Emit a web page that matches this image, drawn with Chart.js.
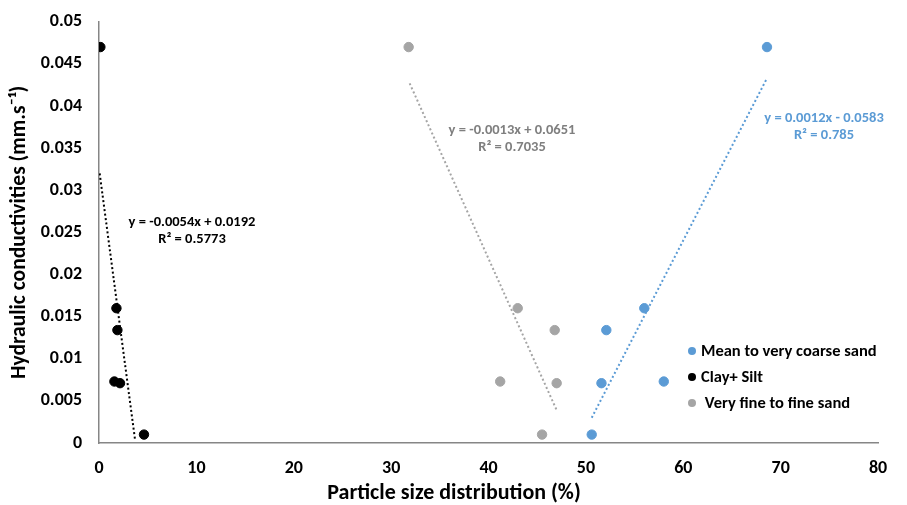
<!DOCTYPE html>
<html><head><meta charset="utf-8">
<script src="https://cdn.jsdelivr.net/npm/chart.js@4/dist/chart.umd.min.js"></script>
<style>html,body{margin:0;padding:0;background:#fff}#wrap{width:907px;height:505px}</style>
</head><body><div id="wrap"><canvas id="c" width="907" height="505"></canvas></div>
<script>
const FONT = 'Carlito, "Liberation Sans Narrow", "Open Sans", sans-serif';
const kValues = [0.047, 0.016, 0.0134, 0.0073, 0.0071, 0.001];
const clayX = [0.14, 1.79, 1.89, 1.58, 2.16, 4.62];
const veryFineX = [31.8, 43.0, 46.8, 41.2, 47.0, 45.5];
const meanX = [68.6, 56.0, 52.1, 58.0, 51.6, 50.6];
const clayTrendX = [0.07, 3.7], clayTrendY = [0.032, 0.0004];
const fineTrendX = [31.9, 47.0], fineTrendY = [0.0427, 0.0039];
const meanTrendX = [50.6, 68.6], meanTrendY = [0.0030, 0.0433];
const seriesNames = ['Mean to very coarse sand', 'Clay+ Silt', ' Very fine to fine sand'];
const eqClay = ['y = -0.0054x + 0.0192', 'R² = 0.5773'];
const eqFine = ['y = -0.0013x + 0.0651', 'R² = 0.7035'];
const eqMean = ['y = 0.0012x - 0.0583', 'R² = 0.785'];
const xTitle = 'Particle size distribution (%)';
const yTitle = 'Hydraulic conductivities (mm.s⁻¹)';
const BLUE = '#5b9bd5', GREY = '#a5a5a5', BLACK = '#000000';

const pts = (xs, ys) => xs.map((x, i) => ({x: x, y: ys[i]}));

const overlay = {
  id: 'overlay',
  afterDraw(chart) {
    const ctx = chart.ctx;
    ctx.save();
    ctx.textAlign = 'center';
    ctx.textBaseline = 'middle';
    ctx.fillStyle = BLACK;
    ctx.font = 'bold 22px ' + FONT;
    ctx.fillText(xTitle, 454, 493);
    ctx.font = 'bold 14.5px ' + FONT;
    const drawEq = (lines, color, x, y) => {
      ctx.fillStyle = color;
      ctx.fillText(lines[0], x, y);
      ctx.fillText(lines[1], x, y + 17);
    };
    drawEq(eqClay, BLACK, 192, 222);
    drawEq(eqFine, '#7f7f7f', 512, 130);
    drawEq(eqMean, BLUE, 824, 118);
    const cols = [BLUE, BLACK, GREY];
    ctx.textAlign = 'left';
    ctx.font = 'bold 16.5px ' + FONT;
    for (let i = 0; i < 3; i++) {
      const y = 351 + i * 26;
      ctx.fillStyle = cols[i];
      ctx.beginPath(); ctx.arc(692, y, 4, 0, Math.PI * 2); ctx.fill();
      ctx.fillStyle = BLACK;
      ctx.fillText(seriesNames[i], 701, y + 1);
    }
    ctx.restore();
  }
};

const trend = (data, color) => ({
  data: data, showLine: true, borderColor: color, borderWidth: 2,
  borderDash: [2, 2.5], pointRadius: 0, pointHoverRadius: 0, fill: false
});

new Chart(document.getElementById('c'), {
  type: 'scatter',
  data: {
    datasets: [
      {label: seriesNames[0], data: pts(meanX, kValues), backgroundColor: BLUE, borderColor: BLUE, pointRadius: 4.7},
      {label: seriesNames[1], data: pts(clayX, kValues), backgroundColor: BLACK, borderColor: BLACK, pointRadius: 4.7},
      {label: seriesNames[2], data: pts(veryFineX, kValues), backgroundColor: GREY, borderColor: GREY, pointRadius: 4.7},
      trend(pts(clayTrendX, clayTrendY), BLACK),
      trend(pts(fineTrendX, fineTrendY), GREY),
      trend(pts(meanTrendX, meanTrendY), BLUE)
    ]
  },
  options: {
    responsive: false, animation: false,
    layout: {padding: {top: 19, right: 29, left: 0, bottom: 0}},
    plugins: {legend: {display: false}, tooltip: {enabled: false}},
    scales: {
      x: {
        type: 'linear', min: 0, max: 80,
        ticks: {stepSize: 10, color: BLACK, font: {family: FONT, size: 18, weight: 'bold'}, padding: 9},
        grid: {display: false, drawTicks: true, tickLength: 6, tickColor: '#868686'},
        border: {color: '#868686', width: 1.5},
        title: {display: false},
        afterFit(s) { s.height = 62; }
      },
      y: {
        type: 'linear', min: 0, max: 0.05,
        ticks: {stepSize: 0.005, color: BLACK, font: {family: FONT, size: 18, weight: 'bold'}, padding: 11,
          callback: v => String(Number(v.toFixed(3)))},
        grid: {display: false, drawTicks: true, tickLength: 6, tickColor: '#868686'},
        border: {color: '#868686', width: 1.5},
        title: {display: true, text: yTitle, color: BLACK, font: {family: FONT, size: 21.5, weight: 'bold'}, padding: {top: 7, bottom: 0}},
        afterFit(s) { s.width = 99; }
      }
    }
  },
  plugins: [overlay]
});
</script></body></html>
